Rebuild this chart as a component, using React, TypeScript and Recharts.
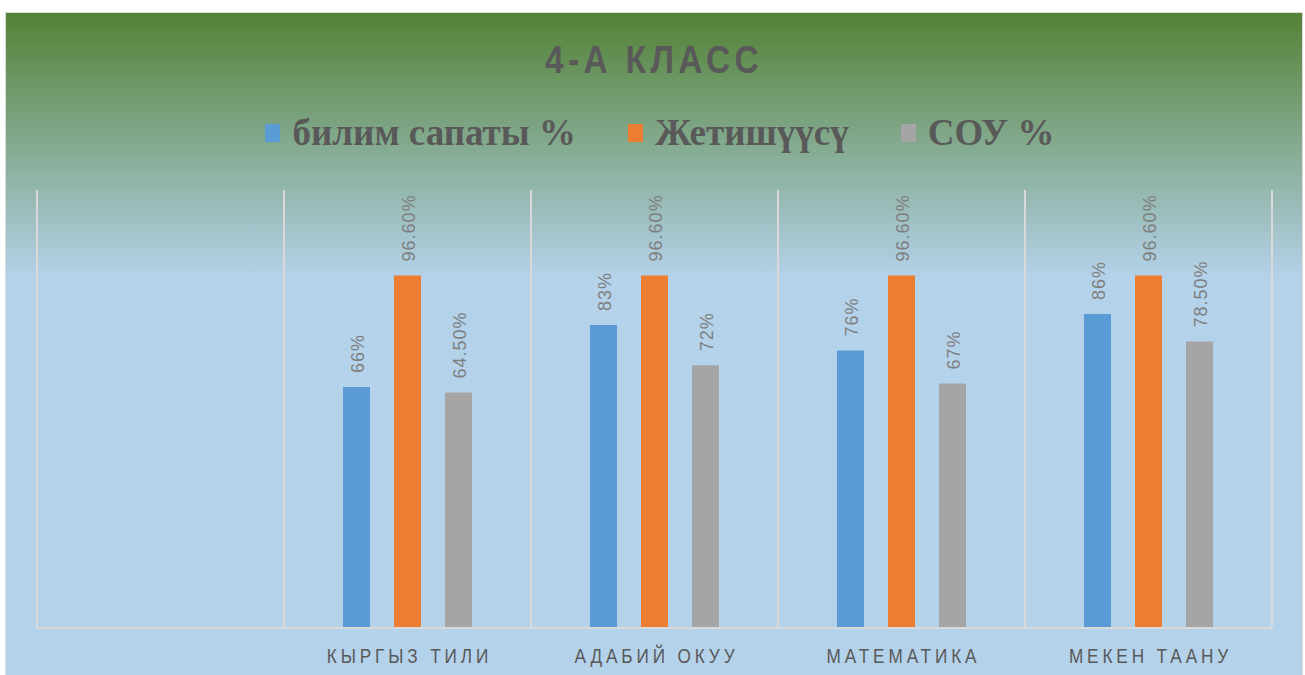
import { BarChart, Bar, XAxis, YAxis, CartesianGrid, LabelList } from 'recharts';

const categories = ['', 'КЫРГЫЗ ТИЛИ', 'АДАБИЙ ОКУУ', 'МАТЕМАТИКА', 'МЕКЕН ТААНУ'];
const bilimSapaty = [null, 66, 83, 76, 86];
const jetishuusu = [null, 96.6, 96.6, 96.6, 96.6];
const sou = [null, 64.5, 72, 67, 78.5];

const seriesNames = ['билим сапаты %', 'Жетишүүсү', 'СОУ %'];
const seriesKeys = ['bilim', 'jetish', 'sou'];
const COLORS = ['#5b9bd5', '#ed7d31', '#a5a5a5'];

const data = categories.map((name, i) => ({
    name,
    bilim: bilimSapaty[i],
    jetish: jetishuusu[i],
    sou: sou[i],
}));

const SANS = "'Liberation Sans', Arial, sans-serif";

const formatPct = (v: number) => (Number.isInteger(v) ? `${v}%` : `${v.toFixed(2)}%`);

const ValueLabel = (props: any) => {
    const { x, y, width, value } = props;
    if (value == null) return null;
    const cx = x + width / 2 + 1;
    const ty = y - 14;
    return (
        <text
            x={0}
            y={0}
            transform={`translate(${cx}, ${ty}) rotate(-90)`}
            textAnchor="start"
            dominantBaseline="central"
            fill="#7f7f7f"
            fontSize={18}
            letterSpacing={1}
            fontFamily={SANS}
        >
            {formatPct(value)}
        </text>
    );
};

const CategoryTick = (props: any) => {
    const { x, y, payload } = props;
    return (
        <text
            x={0}
            y={0}
            transform={`translate(${x + 2}, ${y + 35}) scale(0.86, 1)`}
            textAnchor="middle"
            fill="#595959"
            fontSize={20}
            letterSpacing={4.5}
            fontFamily={SANS}
        >
            {payload.value}
        </text>
    );
};

const App = () => {
    return (
        <div
            style={{
                position: 'absolute',
                left: 5,
                top: 12,
                width: 1298,
                height: 663,
                boxSizing: 'border-box',
                border: '1px solid #d9d9d9',
                borderBottom: 'none',
                background: 'linear-gradient(180deg, #548235 0%, #b4d2ea 40%, #b4d2ea 100%)',
                overflow: 'hidden',
            }}
        >
            {/* Title */}
            <div
                style={{
                    position: 'absolute',
                    top: 27,
                    left: 0,
                    width: '100%',
                    textAlign: 'center',
                    fontFamily: SANS,
                    fontWeight: 'bold',
                    fontSize: 39,
                    lineHeight: 1,
                    letterSpacing: 5,
                    color: '#595959',
                    transform: 'scaleX(0.86)',
                }}
            >
                4-А КЛАСС
            </div>

            {/* Legend */}
            <div
                style={{
                    position: 'absolute',
                    top: 101,
                    left: 0,
                    width: '100%',
                    boxSizing: 'border-box',
                    paddingLeft: 12,
                    display: 'flex',
                    justifyContent: 'center',
                    alignItems: 'center',
                    gap: 52,
                    fontFamily: "'Liberation Serif', 'Times New Roman', serif",
                    fontWeight: 'bold',
                    fontSize: 37,
                    lineHeight: 1,
                    color: '#595959',
                }}
            >
                {seriesNames.map((name, i) => (
                    <div key={name} style={{ display: 'flex', alignItems: 'center', gap: 12 }}>
                        <span style={{ display: 'inline-block', width: 15, height: 18, background: COLORS[i] }} />
                        <span>{name}</span>
                    </div>
                ))}
            </div>

            <BarChart
                width={1296}
                height={662}
                data={data}
                margin={{ top: 177, right: 30, bottom: 7, left: 31 }}
                barSize={27}
                barGap={24}
            >
                <CartesianGrid
                    horizontal={false}
                    stroke="#d9d9d9"
                    strokeWidth={2}
                    verticalCoordinatesGenerator={({ offset }: any) =>
                        categories.map((_c, i) => offset.left + (i * offset.width) / categories.length).concat(offset.left + offset.width)
                    }
                />
                <XAxis
                    dataKey="name"
                    height={40}
                    tickLine={false}
                    tickSize={0}
                    tickMargin={0}
                    axisLine={{ stroke: '#d9d9d9', strokeWidth: 2 }}
                    tick={<CategoryTick />}
                    interval={0}
                />
                <YAxis hide width={0} domain={[0, 120]} />
                {seriesKeys.map((key, i) => (
                    <Bar key={key} dataKey={key} name={seriesNames[i]} fill={COLORS[i]} isAnimationActive={false}>
                        <LabelList dataKey={key} content={<ValueLabel />} />
                    </Bar>
                ))}
            </BarChart>
        </div>
    );
};

export default App;
